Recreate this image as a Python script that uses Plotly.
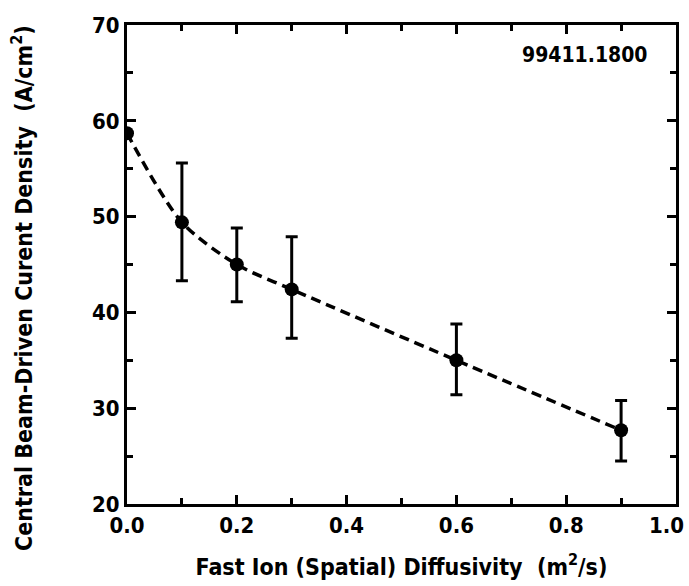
import plotly.graph_objects as go

diffusivity = [0.0, 0.1, 0.2, 0.3, 0.6, 0.9]
current_density = [58.7, 49.4, 45.0, 42.4, 35.0, 27.7]
err_plus = [0.0, 6.2, 3.8, 5.5, 3.8, 3.1]
err_minus = [0.0, 6.1, 3.9, 5.1, 3.6, 3.2]

x_ticks = [0.0, 0.2, 0.4, 0.6, 0.8, 1.0]
x_tick_labels = ["0.0", "0.2", "0.4", "0.6", "0.8", "1.0"]
y_ticks = [20, 30, 40, 50, 60, 70]
y_tick_labels = ["20", "30", "40", "50", "60", "70"]

FONT = "DejaVu Sans Condensed, Liberation Sans Narrow, Arial Narrow, sans-serif"

L, R, T, B = 127, 13, 25, 82
W, H = 689, 586
PW, PH = W - L - R, H - T - B

fig = go.Figure()
# dashed guide line drawn on the overlay axes (top/right) so those axes render
fig.add_trace(go.Scatter(
    x=diffusivity, y=current_density, mode="lines", xaxis="x2", yaxis="y2",
    line=dict(color="black", width=3.5, dash="10px,6px", shape="spline", smoothing=0.8),
    hoverinfo="skip", showlegend=False,
))
fig.add_trace(go.Scatter(
    x=diffusivity, y=current_density, mode="markers",
    marker=dict(symbol="circle", size=14, color="black"),
    error_y=dict(type="data", array=err_plus, arrayminus=err_minus, symmetric=False,
                 color="black", thickness=3, width=6),
    showlegend=False,
))

fig.add_annotation(
    x=(650 - L) / PW, y=1 - (55 - T) / PH, xref="paper", yref="paper",
    xanchor="right", yanchor="middle", showarrow=False,
    text="<b>99411.1800</b>",
    font=dict(family=FONT, size=21, color="black"),
)
# y-axis title
fig.add_annotation(
    x=(22 - L) / PW, y=1 - (288 - T) / PH, xref="paper", yref="paper",
    xanchor="center", yanchor="middle", showarrow=False, textangle=-90,
    text="<b>Central Beam-Driven Curent Density  (A/cm<sup>2</sup>)</b>",
    font=dict(family=FONT, size=23, color="black"),
)
# last x tick label, kept inside the page like the reference
fig.add_annotation(
    x=x_ticks[-1], y=0, xref="x", yref="paper",
    xanchor="right", yanchor="middle", xshift=10, yshift=-21, showarrow=False,
    text="<b>" + x_tick_labels[-1] + "</b>",
    font=dict(family=FONT, size=22, color="black"),
)

common = dict(
    showgrid=False, zeroline=False, automargin=False,
    showline=True, linecolor="black", linewidth=3,
    ticks="inside", ticklen=9, tickwidth=2.5, tickcolor="black",
)

fig.update_layout(
    width=W, height=H,
    margin=dict(l=L, r=R, t=T, b=B, autoexpand=False),
    paper_bgcolor="white", plot_bgcolor="white",
    font=dict(family=FONT, color="black", size=22, weight="bold"),
    xaxis=dict(
        range=[0, 1], tickvals=x_ticks, ticktext=x_tick_labels[:-1] + [""],
        minor=dict(ticks="inside", dtick=0.1, ticklen=6, tickwidth=2.5, tickcolor="black", showgrid=False),
        tickfont=dict(family=FONT, size=22, weight="bold"),
        title=dict(text="Fast Ion (Spatial) Diffusivity  (m<sup>2</sup>/s)",
                   font=dict(family=FONT, size=23, weight="bold"), standoff=22),
        **common,
    ),
    yaxis=dict(
        range=[20, 70], tickvals=y_ticks, ticktext=y_tick_labels,
        minor=dict(ticks="inside", dtick=5, ticklen=6, tickwidth=2.5, tickcolor="black", showgrid=False),
        tickfont=dict(family=FONT, size=22, weight="bold"), ticklabeloverflow="allow",
        **common,
    ),
    xaxis2=dict(
        range=[0, 1], overlaying="x", side="top", anchor="y2", showticklabels=False,
        tickvals=x_ticks,
        minor=dict(ticks="inside", dtick=0.1, ticklen=6, tickwidth=2.5, tickcolor="black", showgrid=False),
        **common,
    ),
    yaxis2=dict(
        range=[20, 70], overlaying="y", side="right", anchor="x2", showticklabels=False,
        tickvals=y_ticks,
        minor=dict(ticks="inside", dtick=5, ticklen=6, tickwidth=2.5, tickcolor="black", showgrid=False),
        **common,
    ),
)

fig.write_html("out.html")
